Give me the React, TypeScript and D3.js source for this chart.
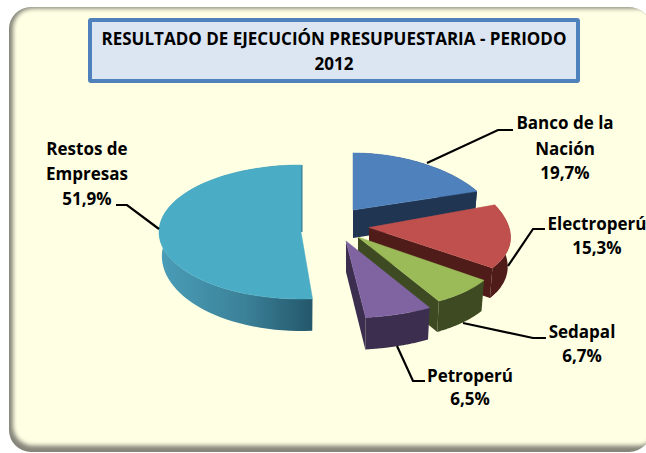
import React from "react";
import * as d3 from "d3";

const categories = ["Banco de la Nación", "Electroperú", "Sedapal", "Petroperú", "Restos de Empresas"];
const shares = [19.7, 15.3, 6.7, 6.5, 51.9];
const valueLabels = ["19,7%", "15,3%", "6,7%", "6,5%", "51,9%"];
const titleLines = ["RESULTADO DE EJECUCIÓN PRESUPUESTARIA - PERIODO", "2012"];

const topColors = ["#4F81BD", "#C0504D", "#9BBB59", "#8064A2", "#4BACC6"];
const faceColors = ["#1F3552", "#4F1C1A", "#3E4B22", "#3B2E4F", "#24586A"];

// Exploded 3D placement of each slice (apex, radii, perspective, depth, drawn start-angle correction)
const geometry = [
  { cx: 353, cy: 210, rx: 138, ry: 57, k: 0.15, d: 28, dn: 0, shift: 0 },
  { cx: 369, cy: 227.5, rx: 140, ry: 69, k: 0.15, d: 29, dn: 2, shift: 0 },
  { cx: 358, cy: 237, rx: 143, ry: 74, k: 0.15, d: 30, dn: 1, shift: 0 },
  { cx: 346, cy: 241, rx: 148, ry: 77, k: 0.15, d: 31, dn: 1, shift: 0 },
  { cx: 301, cy: 232, rx: 142, ry: 67, k: 0.0, d: 24, dn: 8, shift: 0.035 },
];

// Painted back to front
const paintOrder = [4, 0, 1, 2, 3];

const labelLayout = [
  { x: 565, ys: [129, 155, 179], leader: [[427, 163], [498, 130], [513, 130]] },
  { x: 597, ys: [230, 254], leader: [[508, 266], [533, 229], [545, 229]] },
  { x: 582, ys: [338, 362], leader: [[463, 323], [533, 338], [546, 338]] },
  { x: 470, ys: [382, 405], leader: [[397, 346], [413, 381], [425, 381]] },
  { x: 87, ys: [155, 180, 205], leader: [[159, 229], [127, 205], [116, 205]] },
];
const labelLines = [["Banco de la", "Nación"], ["Electroperú"], ["Sedapal"], ["Petroperú"], ["Restos de", "Empresas"]];

const font = "'Open Sans', Lato, sans-serif";

type G = (typeof geometry)[number];
const topPoint = (g: G, a: number): [number, number] => [
  g.cx + g.rx * Math.sin(a) * (1 - g.k * Math.cos(a)),
  g.cy - g.ry * Math.cos(a),
];
const bottomPoint = (g: G, a: number): [number, number] => [
  g.cx + 0.98 * g.rx * Math.sin(a) * (1 - g.k * Math.cos(a)),
  g.cy + g.d - (g.ry + g.dn * (Math.cos(a) < 0 ? 1 : 0)) * Math.cos(a),
];
const line = d3.line<[number, number]>();
const arcAngles = (a0: number, a1: number) => d3.range(0, 61).map((i) => a0 + ((a1 - a0) * i) / 60);

export default function App() {
  const arcs = d3
    .pie<number>()
    .sort(null)
    .startAngle(0)
    .endAngle(2 * Math.PI)(shares);

  return (
    <svg
      width={646}
      height={453}
      viewBox="0 0 646 453"
      style={{ position: "absolute", left: 0, top: 0, background: "#fff" }}
    >
      <defs>
        <filter id="soft" x="-5%" y="-5%" width="110%" height="110%">
          <feGaussianBlur stdDeviation="2" />
        </filter>
        <linearGradient id="wall4" gradientUnits="userSpaceOnUse" x1="160" x2="314" y1="0" y2="0">
          <stop offset="0" stopColor="#4A9DB8" />
          <stop offset="0.55" stopColor="#3B8198" />
          <stop offset="1" stopColor="#23566A" />
        </linearGradient>
        <clipPath id="frame">
          <rect x={9} y={7} width={642} height={445} rx={22} />
        </clipPath>
      </defs>

      <g clipPath="url(#frame)">
        <rect x={9} y={7} width={642} height={445} fill="#85857A" />
        <rect x={13} y={8.5} width={645} height={437} rx={20} fill="#FFFFE3" filter="url(#soft)" />
      </g>

      <rect x={90} y={20} width={488} height={61} rx={1} fill="#DCE6F2" stroke="#4F81BD" strokeWidth={4} />
      {titleLines.map((t, i) => (
        <text
          key={t}
          x={334}
          y={45 + i * 25}
          textAnchor="middle"
          fontFamily={font}
          fontWeight={700}
          fontSize={17}
          fill="#000"
        >
          {t}
        </text>
      ))}

      {paintOrder.map((i) => {
        const g = geometry[i];
        const { startAngle, endAngle: a1 } = arcs[i];
        const a0 = startAngle + g.shift;
        const angles = arcAngles(a0, a1);
        const top = angles.map((a) => topPoint(g, a));
        const bottom = angles.map((a) => bottomPoint(g, a)).reverse();
        const apex: [number, number] = [g.cx, g.cy];
        const apexLow: [number, number] = [g.cx, g.cy + g.d];
        const wallFill = i === 4 ? "url(#wall4)" : faceColors[i];
        return (
          <g key={categories[i]}>
            <path d={line([...top, ...bottom])! + "Z"} fill={wallFill} />
            {i !== 4 && (
              <path
                d={line([apex, topPoint(g, a1), bottomPoint(g, a1), apexLow])! + "Z"}
                fill={faceColors[i]}
              />
            )}
            <path
              d={line([apex, ...top])! + "Z"}
              fill={topColors[i]}
              stroke={topColors[i]}
              strokeWidth={0.5}
            />
            {i === 4 && (
              <path
                d={line([[apex[0] + 0.8, apex[1]], [topPoint(g, a1)[0] + 0.8, topPoint(g, a1)[1]]])!}
                stroke="#2F7F95"
                strokeWidth={1.4}
                fill="none"
              />
            )}
          </g>
        );
      })}

      {labelLayout.map((l, i) => (
        <g key={categories[i]}>
          <path
            d={line(l.leader as [number, number][])!}
            fill="none"
            stroke="#000"
            strokeWidth={2.2}
          />
          {[...labelLines[i], valueLabels[i]].map((t, j) => (
            <text
              key={j}
              x={l.x}
              y={l.ys[j]}
              textAnchor="middle"
              fontFamily={font}
              fontWeight={700}
              fontSize={17}
              fill="#000"
            >
              {t}
            </text>
          ))}
        </g>
      ))}
    </svg>
  );
}
